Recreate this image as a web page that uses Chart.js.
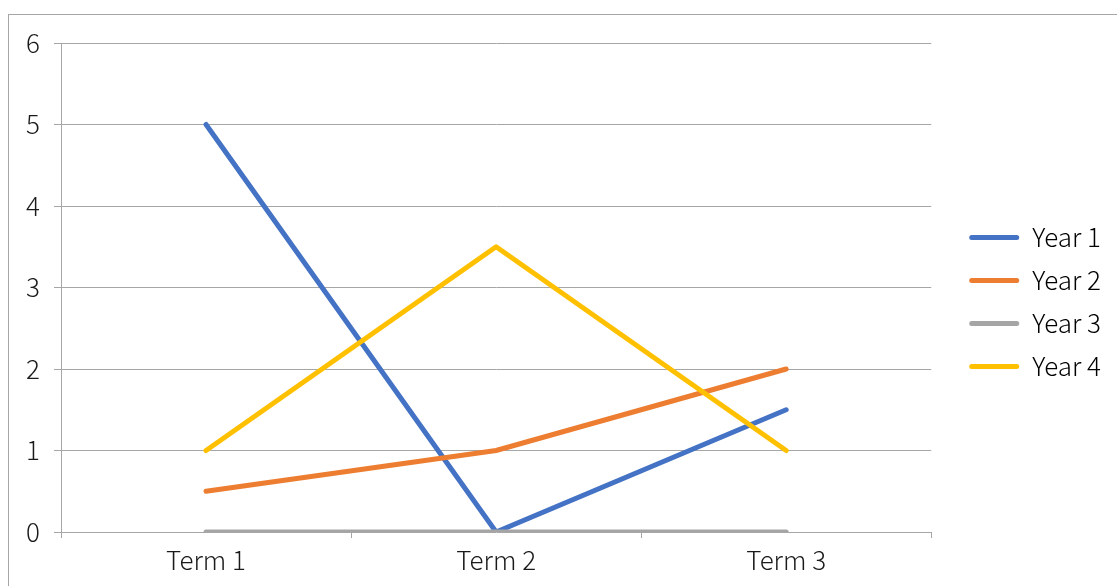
<!DOCTYPE html>
<html>
<head>
<meta charset="utf-8">
<script src="https://cdn.jsdelivr.net/npm/chart.js@4/dist/chart.umd.min.js"></script>
<style>
  html, body { margin: 0; padding: 0; width: 1117px; height: 586px; overflow: hidden; background: #fff; }
  #frame { position: absolute; left: 8px; top: 14px; width: 1200px; height: 700px; border: 1px solid #a6a6a6; }
  #wrap { position: absolute; left: 0; top: 0; width: 1109px; height: 572px; }
</style>
</head>
<body>
<div id="frame"><div id="wrap"><canvas id="c"></canvas></div></div>
<script>
// Terms along the x axis and one series per school year
const categories = ['Term 1', 'Term 2', 'Term 3'];
const year1 = [5, 0, 1.5];
const year2 = [0.5, 1, 2];
const year3 = [0, 0, 0];
const year4 = [1, 3.5, 1];
const seriesNames = ['Year 1', 'Year 2', 'Year 3', 'Year 4'];
const seriesColors = ['#4472C4', '#ED7D31', '#A5A5A5', '#FFC000'];
const yTicks = [0, 1, 2, 3, 4, 5, 6];

const FONT = '"Noto Sans CJK SC", "Noto Sans", sans-serif';
const TEXT = '#1a1a1a';
const GRID = '#a6a6a6';

const seriesValues = [year1, year2, year3, year4];
const datasets = seriesValues.map((vals, i) => ({
  label: seriesNames[i],
  data: vals,
  borderColor: seriesColors[i],
  backgroundColor: seriesColors[i],
  borderWidth: 5,
  borderCapStyle: 'round',
  borderJoinStyle: 'round',
  pointRadius: 0,
  pointHoverRadius: 0,
  tension: 0,
  fill: false,
  // later series sit on top of earlier ones
  order: seriesValues.length - i
}));

// Nudge the legend block: a little further from the plot, and raised
// so its rows sit around the middle of the plot area.
const legendNudge = {
  id: 'legendNudge',
  afterLayout(chart) {
    const lg = chart.legend;
    if (!lg) return;
    lg.left += 21;
    lg.right += 21;
    lg.bottom -= 26;
  }
};

new Chart(document.getElementById('c'), {
  type: 'line',
  data: { labels: categories, datasets },
  plugins: [legendNudge],
  options: {
    responsive: true,
    maintainAspectRatio: false,
    animation: false,
    events: [],
    layout: { padding: { top: 28, right: 28, bottom: 0, left: 0 } },
    plugins: {
      tooltip: { enabled: false },
      legend: {
        position: 'right',
        align: 'center',
        labels: {
          boxWidth: 50,
          boxHeight: 5,
          padding: 17,
          color: TEXT,
          font: { family: FONT, size: 26, weight: 300 },
          sort: (a, b) => a.datasetIndex - b.datasetIndex,
          generateLabels: (chart) => chart.data.datasets.map((ds, i) => ({
            text: ds.label,
            fillStyle: ds.borderColor,
            strokeStyle: ds.borderColor,
            lineWidth: 0,
            borderRadius: 2.5,
            datasetIndex: i,
            hidden: false
          })),
          useBorderRadius: true
        }
      }
    },
    scales: {
      x: {
        offset: true,
        afterFit: (s) => { s.height = 55; },
        grid: {
          offset: true,
          drawOnChartArea: false,
          drawTicks: true,
          tickLength: 6,
          color: GRID,
          lineWidth: 1
        },
        border: { display: false },
        ticks: {
          color: TEXT,
          font: { family: FONT, size: 26, weight: 300 },
          padding: 7,
          maxRotation: 0
        }
      },
      y: {
        min: 0,
        max: 6,
        afterFit: (s) => { s.width = 52; },
        afterBuildTicks: (s) => { s.ticks = yTicks.map(v => ({ value: v })); },
        grid: {
          color: GRID,
          lineWidth: 1,
          drawTicks: true,
          tickLength: 7
        },
        border: { display: true, color: GRID, width: 1 },
        ticks: {
          color: TEXT,
          font: { family: FONT, size: 26, weight: 300, lineHeight: 1 },
          padding: 14
        }
      }
    }
  }
});
</script>
</body>
</html>
